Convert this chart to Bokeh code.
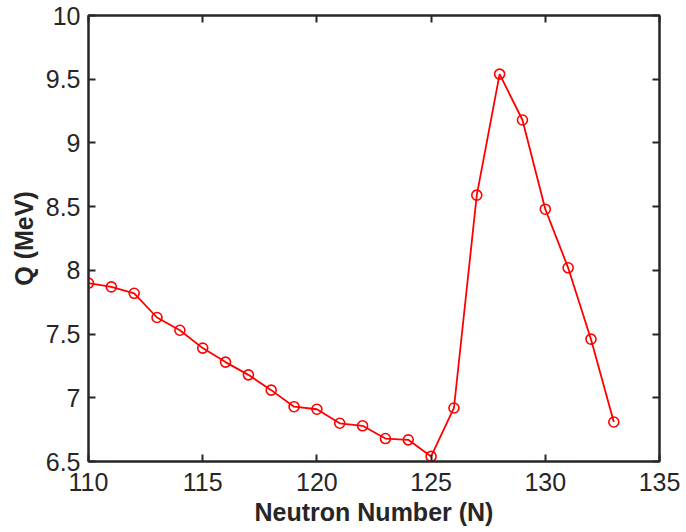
from bokeh.plotting import figure
from bokeh.models import LinearAxis, Range1d, FixedTicker
from bokeh.embed import file_html
from bokeh.resources import INLINE

neutron_number = [110, 111, 112, 113, 114, 115, 116, 117, 118, 119, 120, 121,
                  122, 123, 124, 125, 126, 127, 128, 129, 130, 131, 132, 133]
q_mev = [7.90, 7.87, 7.82, 7.63, 7.53, 7.39, 7.28, 7.18, 7.06, 6.93, 6.91, 6.80,
         6.78, 6.68, 6.67, 6.54, 6.92, 8.59, 9.54, 9.18, 8.48, 8.02, 7.46, 6.81]
x_ticks = [110, 115, 120, 125, 130, 135]
y_ticks = [6.5, 7, 7.5, 8, 8.5, 9, 9.5, 10]

p = figure(width=680, height=530, output_backend="svg", toolbar_location=None,
           x_range=Range1d(110, 135), y_range=Range1d(6.5, 10),
           min_border_left=88, min_border_right=21, min_border_top=15, min_border_bottom=69)

p.line(neutron_number, q_mev, line_color="#ff0000", line_width=1.8)
p.scatter(neutron_number, q_mev, marker="circle", size=10, fill_color=None,
          line_color="#ff0000", line_width=1.6)

p.grid.visible = False
p.outline_line_color = "#262626"
p.outline_line_width = 2

font = "Liberation Sans"
for ax in [p.xaxis[0], p.yaxis[0]]:
    ax.axis_line_color = "#262626"
    ax.axis_line_width = 2
    ax.major_tick_in = 7
    ax.major_tick_out = 0
    ax.major_tick_line_width = 2
    ax.major_tick_line_color = "#262626"
    ax.minor_tick_line_color = None
    ax.major_label_text_font = font
    ax.major_label_text_font_size = "25px"
    ax.major_label_text_color = "#262626"
    ax.axis_label_text_font = font
    ax.axis_label_text_font_style = "bold"
    ax.axis_label_text_font_size = "25px"
    ax.axis_label_text_color = "#262626"

p.xaxis[0].ticker = FixedTicker(ticks=x_ticks)
p.yaxis[0].ticker = FixedTicker(ticks=y_ticks)
p.xaxis[0].axis_label = "Neutron Number (N)"
p.yaxis[0].axis_label = "Q (MeV)"
p.xaxis[0].major_label_standoff = 11
p.xaxis[0].axis_label_standoff = 4
p.yaxis[0].major_label_standoff = 8
p.yaxis[0].axis_label_standoff = 5

top = LinearAxis(ticker=FixedTicker(ticks=x_ticks), major_label_text_font_size="1px",
                 major_label_text_color=None,
                 major_tick_in=7, major_tick_out=0, major_tick_line_width=2,
                 major_tick_line_color="#262626", minor_tick_line_color=None,
                 axis_line_color="#262626", axis_line_width=2)
right = LinearAxis(ticker=FixedTicker(ticks=y_ticks), major_label_text_font_size="1px",
                   major_label_text_color=None,
                   major_tick_in=7, major_tick_out=0, major_tick_line_width=2,
                   major_tick_line_color="#262626", minor_tick_line_color=None,
                   axis_line_color="#262626", axis_line_width=2)
top.major_label_standoff = 0
right.major_label_standoff = 0
p.add_layout(top, "above")
p.add_layout(right, "right")

open("out.html", "w").write(file_html(p, INLINE))
